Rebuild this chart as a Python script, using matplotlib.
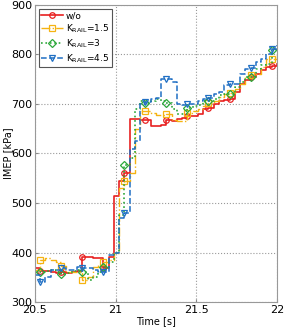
import numpy as np
import matplotlib.pyplot as plt

# IMEP traces, one value per engine cycle
t = 20.5 + 0.0326 * np.arange(47)

imep_wo = [368, 362, 362, 360, 358, 360, 358, 360, 362, 390, 390, 388, 388, 368, 390, 515,
           545, 560, 670, 670, 668, 668, 655, 655, 658, 668, 665, 670, 672, 675, 675, 680,
           690, 692, 700, 705, 708, 710, 725, 740, 748, 755, 760, 768, 775, 776, 780]
imep_k15 = [365, 385, 388, 385, 380, 372, 360, 360, 360, 345, 350, 370, 375, 380, 385, 400,
            530, 545, 560, 650, 685, 685, 682, 678, 678, 680, 668, 665, 665, 682, 685, 690,
            695, 702, 705, 715, 720, 722, 730, 740, 755, 758, 760, 775, 790, 790, 800]
imep_k3 = [360, 360, 362, 365, 360, 357, 358, 362, 365, 360, 345, 350, 360, 370, 380, 400,
           475, 576, 590, 690, 705, 702, 705, 710, 705, 702, 690, 680, 680, 692, 695, 698,
           705, 705, 710, 718, 720, 720, 735, 745, 755, 755, 770, 778, 780, 809, 815]
imep_k45 = [355, 340, 350, 365, 365, 368, 365, 365, 370, 368, 368, 365, 360, 360, 395, 400,
            470, 480, 610, 625, 700, 703, 710, 712, 750, 751, 745, 700, 698, 700, 700, 705,
            710, 712, 720, 725, 738, 740, 740, 760, 770, 772, 785, 790, 800, 810, 820]

labels = ['w/o', r'K$_{\rm RAIL}$=1.5', r'K$_{\rm RAIL}$=3', r'K$_{\rm RAIL}$=4.5']

fig = plt.figure(figsize=(2.84, 3.29), dpi=100)
ax = fig.add_axes([0.123, 0.082, 0.852, 0.903])

ax.plot(t, imep_wo, color='#e82020', ls='-', marker='o', lw=1.2, ms=4, mfc='none',
        mew=0.9, markevery=(1, 4), drawstyle='steps-post', label=labels[0])
ax.plot(t, imep_k15, color='#f5b312', ls='-.', marker='s', lw=1.0, ms=4, mfc='none',
        mew=0.9, markevery=(1, 4), drawstyle='steps-post', label=labels[1])
ax.plot(t, imep_k3, color='#2ca83a', ls=':', marker='D', lw=1.2, ms=3.6, mfc='none',
        mew=0.9, markevery=(1, 4), drawstyle='steps-post', label=labels[2])
ax.plot(t, imep_k45, color='#1f6fc4', ls='--', marker='v', lw=1.1, ms=4.5, mfc='none',
        mew=0.9, markevery=(1, 4), drawstyle='steps-post', label=labels[3])

ax.set_xlim(20.5, 22)
ax.set_ylim(300, 900)
ax.set_xticks([20.5, 21, 21.5, 22])
ax.set_xticklabels(['20.5', '21', '21.5', '22'])
ax.set_yticks(range(300, 901, 100))
ax.tick_params(labelsize=8, direction='in', length=2, color='#888888', pad=2)
ax.grid(True, ls=':', color='#999999', lw=0.8)
for s in ax.spines.values():
    s.set_color('#999999')
    s.set_linewidth(0.8)

ax.set_xlabel('Time [s]', fontsize=7, labelpad=1)
ax.set_ylabel('IMEP [kPa]', fontsize=7)
ax.yaxis.set_label_coords(-0.09, 0.5)

leg = ax.legend(loc='upper left', fontsize=6.5, handlelength=2.4, handletextpad=0.3,
                borderpad=0.3, labelspacing=0.25, fancybox=False, framealpha=1,
                borderaxespad=0.4)
leg.get_frame().set_edgecolor('#555555')
leg.get_frame().set_linewidth(0.8)

fig.savefig('out.png', dpi=100)
